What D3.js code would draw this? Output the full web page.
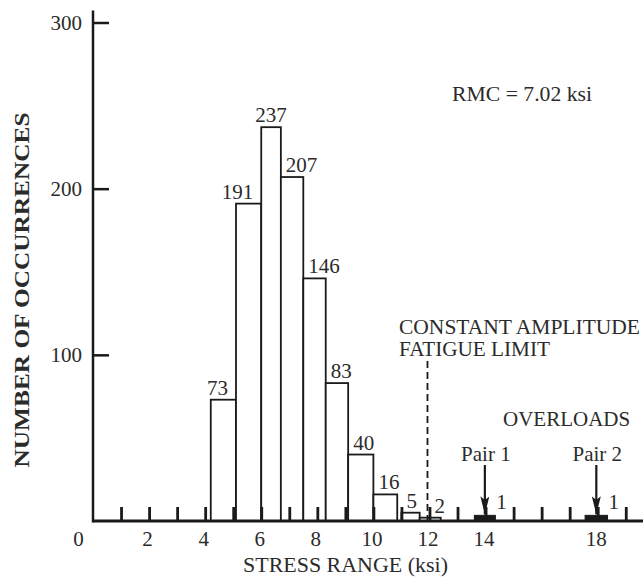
<!DOCTYPE html>
<html>
<head>
<meta charset="utf-8">
<script src="https://cdn.jsdelivr.net/npm/d3@7"></script>
<style>
  body { margin: 0; background: #fff; }
  svg text { font-family: "Liberation Serif", "DejaVu Serif", serif; fill: #2b2b2b; }
</style>
</head>
<body>
<div id="chart"></div>
<script>
// histogram bins (ksi)
var binLow = [4.2, 5.1, 6.0, 6.7, 7.5, 8.3, 9.1, 10.0, 11.0, 11.65];
var binHigh = [5.1, 6.0, 6.7, 7.5, 8.3, 9.1, 10.0, 10.85, 11.65, 12.4];
var counts = [73, 191, 237, 207, 146, 83, 40, 16, 5, 2];

// the two overload pairs
var overloadNames = ["Pair 1", "Pair 2"];
var overloadLow = [13.6, 17.55];
var overloadHigh = [14.35, 18.35];
var overloadCounts = [1, 1];

var xTicks = [1, 2, 3, 4, 5, 6, 7, 8, 9, 10, 11, 12, 13, 14, 15, 16, 17, 18, 19];
var xTickLabels = [0, 2, 4, 6, 8, 10, 12, 14, 18];
var yTicks = [100, 200, 300];

var fatigueLimit = 12;
var rmc = 7.02;

(function() {
    var width = 643,
        height = 578;

    var svg = d3.select("#chart")
        .append("svg")
        .attr("width", width)
        .attr("height", height);

    var x = d3.scaleLinear().domain([0, 20]).range([93, 93 + 28.04 * 20]);
    var y = d3.scaleLinear().domain([0, 300]).range([521, 22.5]);

    var ink = "#1a1a1a";

    // y axis: ticks point inward, labels on the left
    var yAxis = svg.append("g")
        .attr("transform", "translate(" + x(0) + ",0)")
        .call(d3.axisLeft(y).tickValues(yTicks).tickSize(-16).tickSizeOuter(0).tickPadding(11))
    yAxis.select(".domain").remove();
    yAxis.selectAll(".tick line").attr("stroke", ink).attr("stroke-width", 2.5);
    yAxis.selectAll(".tick text")
        .attr("font-size", 21)
        .attr("font-family", "Liberation Serif")
        .attr("fill", "#2b2b2b");

    svg.append("line")
        .attr("x1", x(0)).attr("x2", x(0))
        .attr("y1", y(300) - 12).attr("y2", y(0) + 1.5)
        .attr("stroke", ink)
        .attr("stroke-width", 2.5);

    // histogram bars
    var bins = counts.map(function(c, i) {
        return { lo: binLow[i], hi: binHigh[i], n: c };
    });
    var peak = d3.maxIndex(counts);

    svg.selectAll(".bar")
        .data(bins)
        .enter().append("rect")
        .attr("class", "bar")
        .attr("x", function(d) { return x(d.lo); })
        .attr("width", function(d) { return x(d.hi) - x(d.lo); })
        .attr("y", function(d) { return y(d.n); })
        .attr("height", function(d) { return y(0) - y(d.n); })
        .attr("fill", "#fff")
        .attr("stroke", ink)
        .attr("stroke-width", 1.8);

    svg.selectAll(".barlabel")
        .data(bins)
        .enter().append("text")
        .attr("class", "barlabel")
        .attr("font-size", 21)
        .attr("x", function(d, i) {
            if (i < peak) return x(d.hi) - 8;
            if (i == peak) return (x(d.lo) + x(d.hi)) / 2;
            // bin crossing the fatigue limit line: label goes right of the line
            if (d.lo < fatigueLimit && d.hi > fatigueLimit) return x(fatigueLimit) + 5;
            return x(d.lo) + 5;
        })
        .attr("text-anchor", function(d, i) {
            if (i < peak) return "end";
            if (i == peak) return "middle";
            return "start";
        })
        .attr("y", function(d) { return y(d.n) - 5; })
        .text(function(d) { return d.n; });

    // overload marks (tiny filled bars)
    var overloads = overloadCounts.map(function(c, i) {
        return { name: overloadNames[i], lo: overloadLow[i], hi: overloadHigh[i], n: c };
    });

    svg.selectAll(".overload")
        .data(overloads)
        .enter().append("rect")
        .attr("class", "overload")
        .attr("x", function(d) { return x(d.lo); })
        .attr("width", function(d) { return x(d.hi) - x(d.lo); })
        .attr("y", function(d) { return y(d.n) - 4; })
        .attr("height", function(d) { return y(0) - y(d.n) + 4; })
        .attr("fill", ink)
        .attr("stroke", ink)
        .attr("stroke-width", 1);

    svg.append("defs").append("marker")
        .attr("id", "head")
        .attr("viewBox", "0 0 20 10")
        .attr("refX", 20).attr("refY", 5)
        .attr("markerWidth", 20).attr("markerHeight", 9)
        .attr("markerUnits", "userSpaceOnUse")
        .attr("orient", "auto")
        .append("path")
        .attr("d", "M0,0 L20,5 L0,10 L4,5 Z")
        .attr("fill", ink);

    svg.selectAll(".arrow")
        .data(overloads)
        .enter().append("line")
        .attr("class", "arrow")
        .attr("x1", function(d) { return x((d.lo + d.hi) / 2); })
        .attr("x2", function(d) { return x((d.lo + d.hi) / 2); })
        .attr("y1", 465)
        .attr("y2", function(d) { return y(d.n) - 5; })
        .attr("stroke", ink)
        .attr("stroke-width", 2.2)
        .attr("marker-end", "url(#head)");

    svg.selectAll(".pairname")
        .data(overloads)
        .enter().append("text")
        .attr("class", "pairname")
        .attr("font-size", 21)
        .attr("text-anchor", "middle")
        .attr("x", function(d) { return x((d.lo + d.hi) / 2) + 1; })
        .attr("y", 461)
        .text(function(d) { return d.name; });

    svg.selectAll(".paircount")
        .data(overloads)
        .enter().append("text")
        .attr("class", "paircount")
        .attr("font-size", 21)
        .attr("x", function(d) { return x(d.hi) + 1; })
        .attr("y", 509)
        .text(function(d) { return d.n; });

    // fatigue limit
    svg.append("line")
        .attr("x1", x(fatigueLimit) - 2).attr("x2", x(fatigueLimit) - 2)
        .attr("y1", 361).attr("y2", y(0))
        .attr("stroke", ink)
        .attr("stroke-width", 1.8)
        .attr("stroke-dasharray", "7,4");

    // x axis: baseline + inward ticks
    var xAxis = svg.append("g")
        .attr("transform", "translate(0," + y(0) + ")")
        .call(d3.axisBottom(x).tickValues(xTicks).tickSize(-14).tickSizeOuter(0).tickFormat(""));
    xAxis.select(".domain").remove();
    xAxis.selectAll(".tick line").attr("stroke", ink).attr("stroke-width", 2.8);

    svg.append("line")
        .attr("x1", x(0)).attr("x2", width)
        .attr("y1", y(0)).attr("y2", y(0))
        .attr("stroke", ink)
        .attr("stroke-width", 3);

    var xLab = svg.append("g")
        .attr("transform", "translate(0," + y(0) + ")")
        .call(d3.axisBottom(x).tickValues(xTickLabels).tickSize(0).tickPadding(10));
    xLab.select(".domain").remove();
    xLab.selectAll(".tick line").remove();
    xLab.selectAll(".tick text")
        .attr("font-size", 21)
        .attr("font-family", "Liberation Serif")
        .attr("fill", "#2b2b2b")
        .attr("dx", function(d) { return d == 0 ? -15 : -2; });

    // titles and notes
    svg.append("text")
        .attr("font-size", 22)
        .attr("text-anchor", "middle")
        .attr("x", 345.5)
        .attr("y", 572)
        .attr("textLength", 205)
        .attr("lengthAdjust", "spacingAndGlyphs")
        .text("STRESS RANGE (ksi)");

    svg.append("text")
        .attr("font-size", 22)
        .attr("font-weight", "bold")
        .attr("text-anchor", "middle")
        .attr("transform", "translate(29,290) rotate(-90)")
        .attr("textLength", 355)
        .attr("lengthAdjust", "spacingAndGlyphs")
        .text("NUMBER OF OCCURRENCES");

    svg.append("text")
        .attr("font-size", 22)
        .attr("x", 452)
        .attr("y", 101)
        .attr("textLength", 140)
        .attr("lengthAdjust", "spacingAndGlyphs")
        .text("RMC = " + rmc.toFixed(2) + " ksi");

    svg.append("text")
        .attr("font-size", 20)
        .attr("x", 399)
        .attr("y", 334)
        .attr("textLength", 241)
        .attr("lengthAdjust", "spacingAndGlyphs")
        .text("CONSTANT AMPLITUDE");

    svg.append("text")
        .attr("font-size", 20)
        .attr("x", 399)
        .attr("y", 356)
        .attr("textLength", 151)
        .attr("lengthAdjust", "spacingAndGlyphs")
        .text("FATIGUE LIMIT");

    svg.append("text")
        .attr("font-size", 21)
        .attr("x", 503)
        .attr("y", 426)
        .text("OVERLOADS");
})();
</script>
</body>
</html>
